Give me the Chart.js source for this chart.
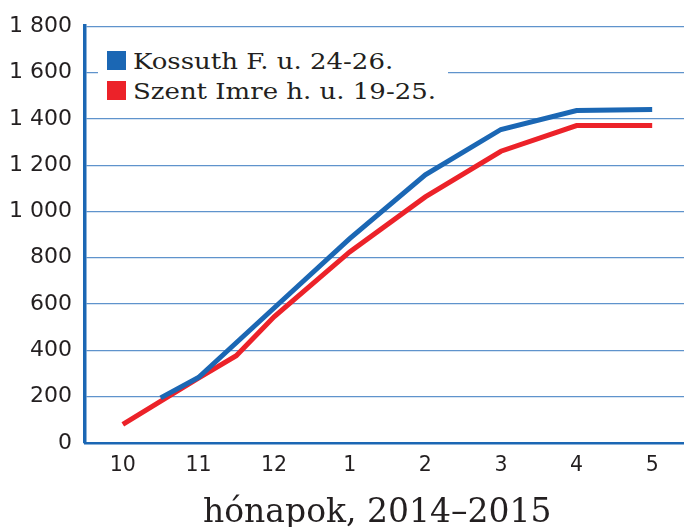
<!DOCTYPE html>
<html>
<head>
<meta charset="utf-8">
<script src="https://cdn.jsdelivr.net/npm/chart.js@4"></script>
<style>
  html, body { margin: 0; padding: 0; background: #fff; overflow: hidden; width: 684px; height: 527px; }
  #wrap { position: relative; width: 684px; height: 527px; overflow: hidden; }
  canvas { position: absolute; left: 0; top: 0; }
  #legend { position: absolute; left: 98px; top: 40px; width: 350px; height: 66px; background: #fff; font-family: "DejaVu Serif", serif; font-size: 23px; color: #231f20; }
  .row { position: absolute; left: 9px; height: 24px; line-height: 24px; white-space: nowrap; }
  .sw { position: absolute; left: 0; top: 2px; width: 19px; height: 19px; }
  .lt { position: absolute; left: 26px; top: 0; transform: scaleX(1.13); transform-origin: 0 50%; }
  #xtitle { position: absolute; left: 203px; top: 491px; font-family: "DejaVu Serif", serif; font-size: 33px; line-height: 40px; color: #231f20; white-space: nowrap; }
</style>
</head>
<body>
<div id="wrap">
  <canvas id="c" width="700" height="527"></canvas>
  <div id="legend"></div>
  <div id="xtitle"></div>
</div>
<script>
const categories = ['10', '11', '12', '1', '2', '3', '4', '5'];
const xTitle = 'hónapok, 2014–2015';
const yTicks = [0, 200, 400, 600, 800, 1000, 1200, 1400, 1600, 1800];

const kossuthLabel = 'Kossuth F. u. 24-26.';
const kossuthX = [0.5, 1, 2, 3, 4, 5, 6, 7];
const kossuthY = [195, 283, 583, 883, 1158, 1354, 1436, 1440];

const szentLabel = 'Szent Imre h. u. 19-25.';
const szentX = [0, 1, 1.5, 2, 3, 4, 5, 6, 7];
const szentY = [80, 280, 377, 545, 825, 1063, 1260, 1371, 1371];

const BLUE = '#1b67b4';
const RED = '#ec2229';

function pts(xs, ys) { return xs.map((x, i) => ({ x: x, y: ys[i] })); }

const datasets = [
  { label: kossuthLabel, data: pts(kossuthX, kossuthY), borderColor: BLUE, backgroundColor: BLUE },
  { label: szentLabel, data: pts(szentX, szentY), borderColor: RED, backgroundColor: RED }
].map(d => Object.assign(d, { borderWidth: 5, pointRadius: 0, tension: 0, fill: false, borderCapStyle: 'butt', borderJoinStyle: 'miter' }));

const leg = document.getElementById('legend');
datasets.forEach((d, i) => {
  const r = document.createElement('div');
  r.className = 'row';
  r.style.top = (i * 30 + 9) + 'px';
  r.innerHTML = '<span class="sw" style="background:' + d.borderColor + '"></span><span class="lt"></span>';
  r.querySelector('.lt').textContent = d.label;
  leg.appendChild(r);
});
document.getElementById('xtitle').textContent = xTitle;

function fmt(v) {
  if (v >= 1000) { const s = String(v); return s.slice(0, s.length - 3) + ' ' + s.slice(-3); }
  return String(v);
}

new Chart(document.getElementById('c'), {
  type: 'line',
  data: { datasets: datasets },
  options: {
    responsive: false,
    animation: false,
    layout: { padding: { top: 23, right: 10, left: 0, bottom: 0 } },
    plugins: { legend: { display: false }, tooltip: { enabled: false } },
    scales: {
      x: {
        type: 'linear',
        min: -0.5,
        max: categories.length - 0.5,
        afterBuildTicks: s => { s.ticks = categories.map((c, i) => ({ value: i })); },
        afterFit: s => { s.height = 84; },
        grid: { display: false, drawTicks: false },
        border: { display: true, color: BLUE, width: 2.5 },
        ticks: {
          padding: 10,
          color: '#231f20',
          font: { family: 'DejaVu Sans', size: 20.5 },
          callback: (v) => categories[v] ?? ''
        }
      },
      y: {
        min: 0,
        max: 1800,
        afterBuildTicks: s => { s.ticks = yTicks.map(v => ({ value: v })); },
        afterFit: s => { s.width = 85; },
        grid: { color: '#5f93cc', lineWidth: 1.2, drawTicks: false },
        border: { display: true, color: BLUE, width: 3.5 },
        ticks: {
          padding: 13,
          color: '#231f20',
          font: { family: 'DejaVu Sans', size: 22 },
          callback: v => fmt(v)
        }
      }
    }
  }
});
</script>
</body>
</html>
